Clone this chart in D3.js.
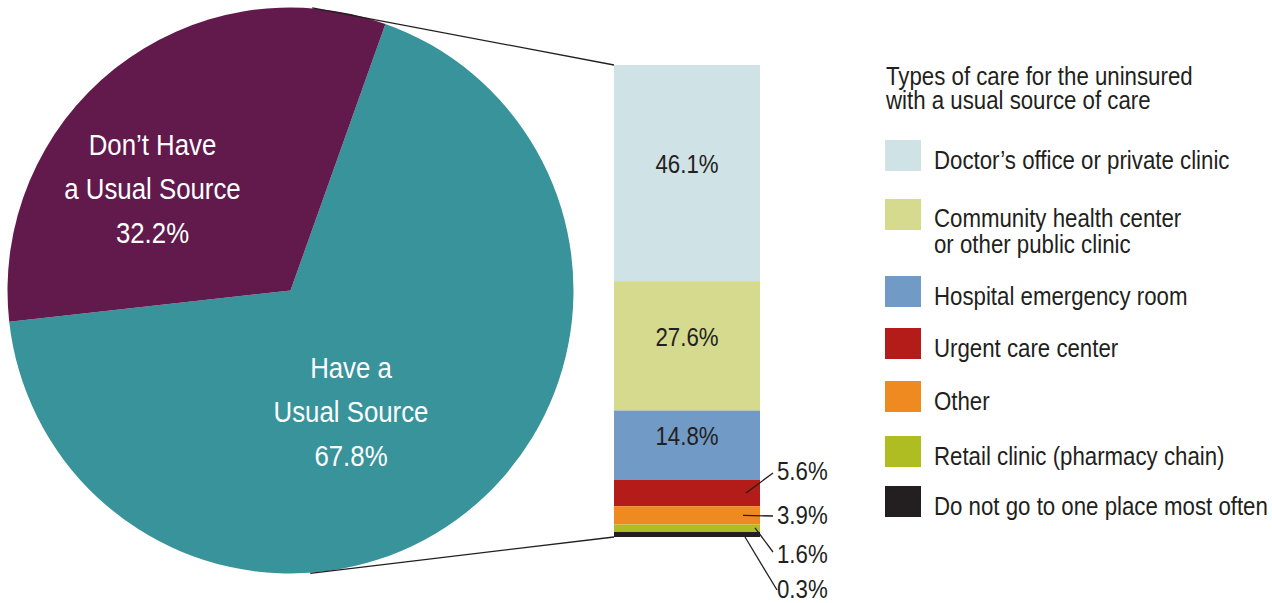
<!DOCTYPE html>
<html>
<head>
<meta charset="utf-8">
<script src="https://cdn.jsdelivr.net/npm/d3@7"></script>
<style>
  html, body { margin: 0; padding: 0; background: #fff; }
  svg text { font-family: "Liberation Sans", Arial, sans-serif; }
</style>
</head>
<body>
<svg id="chart" width="1272" height="603"></svg>
<script>
// Usual source of care among the uninsured
const sourceLabels = [["Have a", "Usual Source"], ["Don\u2019t Have", "a Usual Source"]];
const sourceValues = [67.8, 32.2];
const sourceColors = ["#38939b", "#611a4b"];

// Breakdown of those who have a usual source
const careTypes = [
  ["Doctor\u2019s office or private clinic"],
  ["Community health center", "or other public clinic"],
  ["Hospital emergency room"],
  ["Urgent care center"],
  ["Other"],
  ["Retail clinic (pharmacy chain)"],
  ["Do not go to one place most often"]
];
const careValues = [46.1, 27.6, 14.8, 5.6, 3.9, 1.6, 0.3];
const careColors = ["#cfe2e6", "#d5da8f", "#719ac6", "#b31c18", "#ee8a20", "#b0bd22", "#231f20"];
const legendTitle = ["Types of care for the uninsured", "with a usual source of care"];

const textColor = "#231f20";
const fmt = v => v.toFixed(1) + "%";
const svg = d3.select("#chart");
const deg = Math.PI / 180;

// Condensed look: draw text narrowed horizontally
const squeeze = 0.89;
function label(g, x, y, str, size, anchor, fill) {
  return g.append("text")
    .attr("transform", `translate(${x},${y}) scale(${squeeze},1)`)
    .attr("text-anchor", anchor)
    .attr("font-size", size)
    .attr("fill", fill)
    .text(str);
}

// ---- Pie ----
const cx = 290.5, cy = 290.5, R = 283;
const startA = 19.6 * deg;
const pie = d3.pie().sort(null).value(d => d).startAngle(startA).endAngle(startA + 2 * Math.PI);
const arcs = pie(sourceValues);
const arc = d3.arc().innerRadius(0).outerRadius(R);
const pieG = svg.append("g").attr("transform", `translate(${cx},${cy})`);
pieG.selectAll("path").data(arcs).join("path")
  .attr("d", arc)
  .attr("fill", (d, i) => sourceColors[i]);

const pieLabelPos = [[60.5, 87.5], [-138, -135.5]];
arcs.forEach((a, i) => {
  const lines = [...sourceLabels[i], fmt(sourceValues[i])];
  lines.forEach((ln, j) => {
    label(pieG, pieLabelPos[i][0], pieLabelPos[i][1] + j * 44, ln, 29, "middle", "#fff");
  });
});

// ---- Stacked bar ----
const barX = 614, barW = 146, barTop = 65, barBottom = 537;
const minH = 5;
const total = d3.sum(careValues);
const tiny = v => v / total * (barBottom - barTop) < minH;
const smallSum = d3.sum(careValues.filter(tiny));
const nSmall = careValues.filter(tiny).length;
const y = d3.scaleLinear().domain([0, total - smallSum]).range([0, barBottom - barTop - nSmall * minH]);
let acc = barTop;
const segs = careValues.map((v, i) => {
  const h = tiny(v) ? minH : y(v);
  const s = { v, i, y0: acc, h };
  acc += h;
  return s;
});
const barG = svg.append("g");
barG.selectAll("rect").data(segs).join("rect")
  .attr("x", barX).attr("width", barW)
  .attr("y", d => d.y0).attr("height", d => d.h)
  .attr("fill", d => careColors[d.i]);

// Large segments: label inside
segs.filter(d => d.v > 10).forEach(d => {
  label(barG, barX + barW / 2, d.y0 + d.h / 2, fmt(d.v), 25, "middle", textColor);
});

// Small segments: callouts to the right
const calloutStart = [[746, 0.5], [743, 0.5], [755, 0.45], [745, 1]];
const calloutEnd = [[773, 473], [773, 516], [773, 552], [777, 590]];
const calloutBase = [480, 524, 562.5, 598];
segs.filter(d => d.v <= 10).forEach((d, k) => {
  barG.append("line")
    .attr("x1", calloutStart[k][0]).attr("y1", d.y0 + d.h * calloutStart[k][1])
    .attr("x2", calloutEnd[k][0]).attr("y2", calloutEnd[k][1])
    .attr("stroke", textColor).attr("stroke-width", 1.3);
  label(barG, 777, calloutBase[k], fmt(d.v), 25, "start", textColor);
});

// Connector lines from the pie to the bar
const topA = 4.4 * deg, botA = 176 * deg;
[[topA, barTop, -0.5], [botA, barBottom, 0.5]].forEach(([a, by, off]) => {
  svg.append("line")
    .attr("x1", cx + R * Math.sin(a)).attr("y1", cy - R * Math.cos(a) + off)
    .attr("x2", barX).attr("y2", by)
    .attr("stroke", textColor).attr("stroke-width", 1.3);
});

// ---- Legend ----
const lg = svg.append("g");
legendTitle.forEach((t, i) => {
  label(lg, 886, 85 + i * 24, t, 25, "start", textColor);
});
const swatchTops = [140, 199, 276, 328, 381, 436, 486];
careTypes.forEach((lines, i) => {
  lg.append("rect").attr("x", 885).attr("y", swatchTops[i])
    .attr("width", 36).attr("height", 31).attr("fill", careColors[i]);
  lines.forEach((ln, j) => {
    const base = lines.length > 1 ? swatchTops[i] + 28 + j * 26 : swatchTops[i] + 29;
    label(lg, 934, base, ln, 25, "start", textColor);
  });
});
</script>
</body>
</html>
